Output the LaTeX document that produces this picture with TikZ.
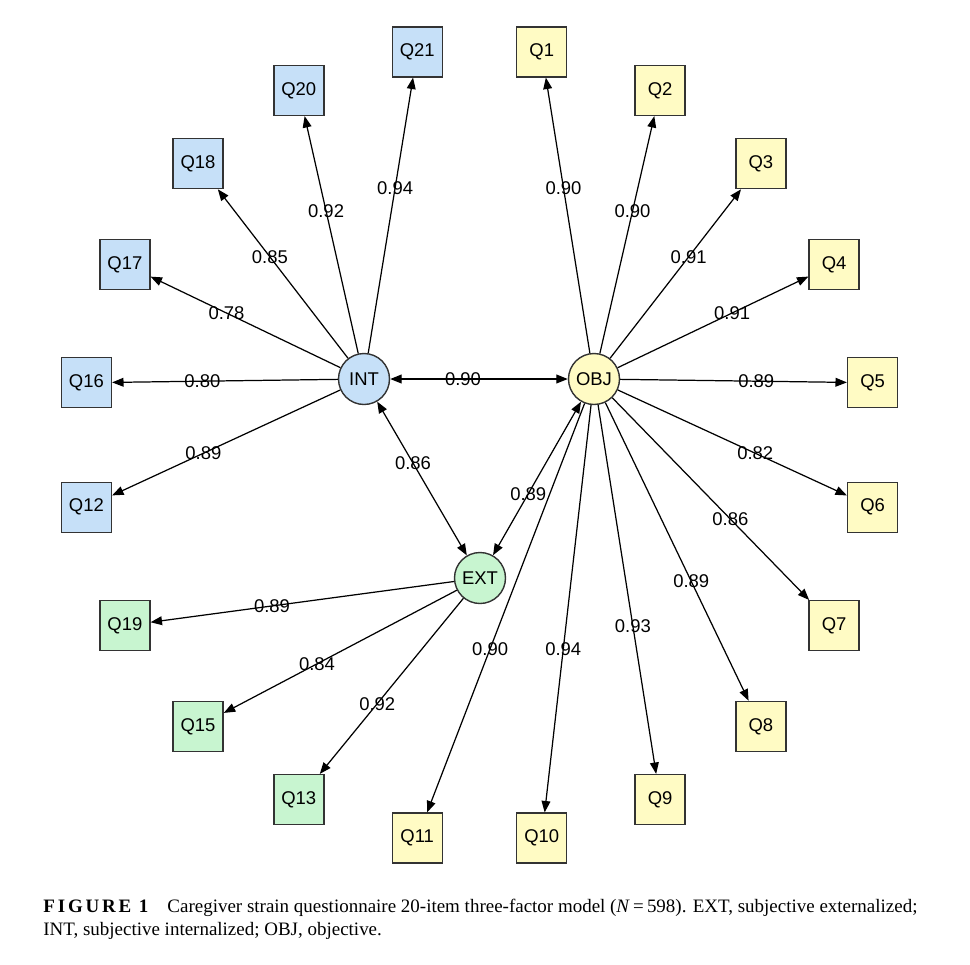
\documentclass[tikz,border=0pt]{standalone}
\usepackage{fontspec}
\setmainfont{Liberation Serif}
\setsansfont{Liberation Sans}
\usepackage{tikz}
\usetikzlibrary{arrows.meta}
\definecolor{intblue}{RGB}{198,224,248}
\definecolor{objyellow}{RGB}{255,251,196}
\definecolor{extgreen}{RGB}{200,245,208}
\definecolor{boxline}{RGB}{51,51,51}

\begin{document}
\begin{tikzpicture}[
        item/.style={draw=boxline, line width=0.8pt, minimum size=1cm, inner sep=0pt,
            font=\sffamily\fontsize{10.5}{12}\selectfont},
        factor/.style={circle, draw=boxline, line width=0.8pt, minimum size=1.02cm, inner sep=0pt,
            font=\sffamily\fontsize{10.5}{12}\selectfont},
        load/.style={-{Triangle[length=6.5pt,width=5pt]}, line width=0.7pt},
        cov/.style={{Triangle[length=6.5pt,width=5pt]}-{Triangle[length=6.5pt,width=5pt]}, line width=0.7pt},
        lbl/.style={pos=0.6, inner sep=0pt, font=\sffamily\fontsize{10.5}{12}\selectfont}
    ]
                    \useasboundingbox (0,0) rectangle (19.4,-19.28);
                    \node[factor, fill=intblue]   (INT) at (7.28,-7.58) {INT};
                    \node[factor, fill=objyellow] (OBJ) at (11.88,-7.58) {OBJ};
                    \node[factor, fill=extgreen]  (EXT) at (9.6,-11.56) {EXT};
                    \begin{scope}[shift={(9.59,-8.9)}]
                        \node[item, fill=objyellow] (Q1)  at (81:7.96)   {Q1};
                        \node[item, fill=objyellow] (Q2)  at (63:7.96)   {Q2};
                        \node[item, fill=objyellow] (Q3)  at (45:7.96)   {Q3};
                        \node[item, fill=objyellow] (Q4)  at (27:7.96)   {Q4};
                        \node[item, fill=objyellow] (Q5)  at (9:7.96)    {Q5};
                        \node[item, fill=objyellow] (Q6)  at (-9:7.96)   {Q6};
                        \node[item, fill=objyellow] (Q7)  at (-27:7.96)  {Q7};
                        \node[item, fill=objyellow] (Q8)  at (-45:7.96)  {Q8};
                        \node[item, fill=objyellow] (Q9)  at (-63:7.96)  {Q9};
                        \node[item, fill=objyellow] (Q10) at (-81:7.96)  {Q10};
                        \node[item, fill=objyellow] (Q11) at (-99:7.96)  {Q11};
                        \node[item, fill=extgreen]  (Q13) at (-117:7.96) {Q13};
                        \node[item, fill=extgreen]  (Q15) at (-135:7.96) {Q15};
                        \node[item, fill=extgreen]  (Q19) at (-153:7.96) {Q19};
                        \node[item, fill=intblue]   (Q12) at (-171:7.96) {Q12};
                        \node[item, fill=intblue]   (Q16) at (171:7.96)  {Q16};
                        \node[item, fill=intblue]   (Q17) at (153:7.96)  {Q17};
                        \node[item, fill=intblue]   (Q18) at (135:7.96)  {Q18};
                        \node[item, fill=intblue]   (Q20) at (117:7.96)  {Q20};
                        \node[item, fill=intblue]   (Q21) at (99:7.96)   {Q21};
                    \end{scope}
                    \draw[cov] (INT) -- node[lbl, pos=0.41] {0.90} (OBJ);
                    \draw[cov] (INT) -- node[lbl, pos=0.4] {0.86} (EXT);
                    \draw[cov] (EXT) -- node[lbl, pos=0.4] {0.89} (OBJ);
                    \draw[load] (INT) -- node[lbl] {0.94} (Q21);
                    \draw[load] (INT) -- node[lbl] {0.92} (Q20);
                    \draw[load] (INT) -- node[lbl] {0.85} (Q18);
                    \draw[load] (INT) -- node[lbl] {0.78} (Q17);
                    \draw[load] (INT) -- node[lbl] {0.80} (Q16);
                    \draw[load] (INT) -- node[lbl] {0.89} (Q12);
                    \draw[load] (OBJ) -- node[lbl] {0.90} (Q1);
                    \draw[load] (OBJ) -- node[lbl] {0.90} (Q2);
                    \draw[load] (OBJ) -- node[lbl] {0.91} (Q3);
                    \draw[load] (OBJ) -- node[lbl] {0.91} (Q4);
                    \draw[load] (OBJ) -- node[lbl] {0.89} (Q5);
                    \draw[load] (OBJ) -- node[lbl] {0.82} (Q6);
                    \draw[load] (OBJ) -- node[lbl] {0.86} (Q7);
                    \draw[load] (OBJ) -- node[lbl] {0.89} (Q8);
                    \draw[load] (OBJ) -- node[lbl] {0.93} (Q9);
                    \draw[load] (OBJ) -- node[lbl] {0.94} (Q10);
                    \draw[load] (OBJ) -- node[lbl] {0.90} (Q11);
                    \draw[load] (EXT) -- node[lbl] {0.89} (Q19);
                    \draw[load] (EXT) -- node[lbl] {0.84} (Q15);
                    \draw[load] (EXT) -- node[lbl] {0.92} (Q13);
                    \node[anchor=north west, inner sep=0pt, align=left, font=\fontsize{10.8}{13}\selectfont] (caption) at (0.86,-17.98)
                        {{\bfseries\addfontfeatures{LetterSpace=15}FIGURE 1}\quad Caregiver strain questionnaire 20-item three-factor model (\textit{N}\,=\,598). EXT, subjective externalized;\\
                         INT, subjective internalized; OBJ, objective.};
                \end{tikzpicture}
\end{document}
